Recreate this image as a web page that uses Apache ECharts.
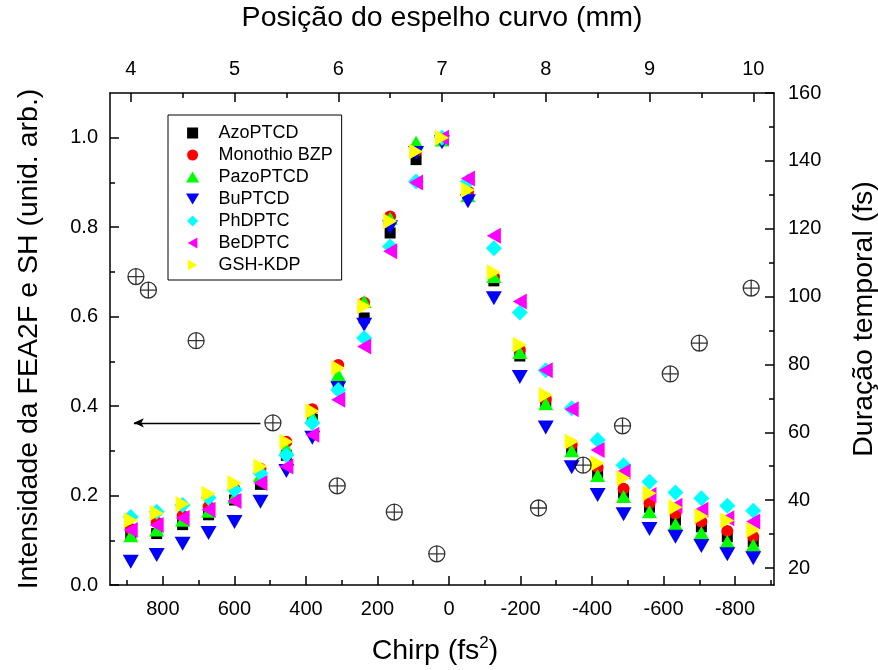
<!DOCTYPE html>
<html>
<head>
<meta charset="utf-8">
<script src="https://cdn.jsdelivr.net/npm/echarts@6/dist/echarts.min.js"></script>
<style>
html,body{margin:0;padding:0;background:#fff;}
#chart{width:878px;height:670px;}
</style>
</head>
<body>
<div id="chart"></div>
<script>
// Mirror position (mm) of each measured point
const positions = [4.00, 4.25, 4.50, 4.75, 5.00, 5.25, 5.50, 5.75, 6.00, 6.25, 6.50, 6.75, 7.00,
                   7.25, 7.50, 7.75, 8.00, 8.25, 8.50, 8.75, 9.00, 9.25, 9.50, 9.75, 10.00];

// Normalised intensities (left axis)
const azoPTCD    = [0.112,0.115,0.135,0.157,0.190,0.225,0.290,0.370,0.447,0.597,0.787,0.951,0.998,0.875,0.680,0.512,0.410,0.300,0.250,0.206,0.174,0.145,0.130,0.108,0.097];
const monothio   = [0.125,0.140,0.155,0.175,0.215,0.260,0.320,0.393,0.492,0.631,0.824,0.970,1.000,0.880,0.690,0.526,0.415,0.314,0.263,0.215,0.183,0.160,0.142,0.121,0.108];
const pazoPTCD   = [0.110,0.123,0.145,0.165,0.197,0.245,0.305,0.376,0.470,0.634,0.820,0.990,0.995,0.870,0.690,0.520,0.405,0.300,0.245,0.198,0.164,0.136,0.117,0.097,0.089];
const buPTCD     = [0.052,0.067,0.092,0.116,0.141,0.186,0.255,0.329,0.440,0.582,0.800,0.966,0.990,0.858,0.641,0.465,0.352,0.263,0.201,0.158,0.125,0.108,0.087,0.069,0.060];
const phDPTC     = [0.152,0.164,0.179,0.195,0.213,0.250,0.290,0.362,0.436,0.552,0.757,0.902,1.000,0.902,0.753,0.609,0.480,0.395,0.324,0.268,0.231,0.207,0.194,0.177,0.166];
const beDPTC     = [0.123,0.134,0.150,0.168,0.188,0.228,0.265,0.336,0.414,0.533,0.746,0.900,1.000,0.909,0.781,0.634,0.480,0.393,0.302,0.253,0.201,0.177,0.168,0.149,0.142];
const gshKDP     = [0.145,0.161,0.181,0.204,0.228,0.265,0.320,0.389,0.485,0.623,0.813,0.969,1.000,0.883,0.699,0.537,0.425,0.321,0.272,0.239,0.205,0.174,0.154,0.144,0.123];

// Pulse duration (right axis) vs mirror position
const durPos = [4.05, 4.17, 4.63, 5.37, 5.99, 6.54, 6.95, 7.93, 8.36, 8.74, 9.20, 9.48, 9.98];
const durVal = [105.9, 101.9, 87.0, 62.8, 44.2, 36.5, 24.2, 37.7, 50.3, 61.9, 77.2, 86.3, 102.5];

// Tick labels
const posTicks = [4, 5, 6, 7, 8, 9, 10];
const posMinor = [4.5, 5.5, 6.5, 7.5, 8.5, 9.5];
const chirpTicks = [800, 600, 400, 200, 0, -200, -400, -600, -800];
const chirpMinor = [900, 700, 500, 300, 100, -100, -300, -500, -700, -900];
const leftTicks = [0.0, 0.2, 0.4, 0.6, 0.8, 1.0];
const leftMinor = [0.1, 0.3, 0.5, 0.7, 0.9];
const rightTicks = [20, 40, 60, 80, 100, 120, 140, 160];
const rightMinor = [30, 50, 70, 90, 110, 130, 150];

const FONT = 'Liberation Sans, Arial, Helvetica, sans-serif';
const LW = 1.5;

function zipXY(xs, ys){ return xs.map((x,i)=>[x, ys[i]]); }

const seriesDefs = [
  {name:'AzoPTCD',      data:azoPTCD,  color:'#000000', symbol:'rect',   size:11, icon:'path://M0,0L10,0L10,10L0,10Z'},
  {name:'Monothio BZP', data:monothio, color:'#ff0000', symbol:'circle', size:12, icon:'circle'},
  {name:'PazoPTCD',     data:pazoPTCD, color:'#00ff00', symbol:'triangle', size:[15,13], icon:'path://M6,0L12,10L0,10Z'},
  {name:'BuPTCD',       data:buPTCD,   color:'#0000ff', symbol:'path://M0,0L10,0L5,8.7Z', size:[16,14], icon:'path://M0,0L12,0L6,10Z'},
  {name:'PhDPTC',       data:phDPTC,   color:'#00ffff', symbol:'diamond', size:[16,16], icon:'path://M5,0L10,5L5,10L0,5Z'},
  {name:'BeDPTC',       data:beDPTC,   color:'#ff00ff', symbol:'path://M8.7,0L8.7,10L0,5Z', size:[14,16], icon:'path://M8.7,0L8.7,10L0,5Z'},
  {name:'GSH-KDP',      data:gshKDP,   color:'#ffff00', symbol:'path://M0,0L8.7,5L0,10Z', size:[14,16], icon:'path://M0,0L8.7,5L0,10Z'}
];

const series = seriesDefs.map(d => ({
  name: d.name, type: 'scatter', xAxisIndex: 0, yAxisIndex: 0,
  symbol: d.symbol, symbolSize: d.size, symbolKeepAspect: false,
  itemStyle: {color: d.color, opacity: 1},
  data: zipXY(positions, d.data), z: 3
}));

series.push({
  name: 'Duração', type: 'scatter', xAxisIndex: 0, yAxisIndex: 1,
  symbol: 'path://M0,8A8,8 0 1 1 16,8A8,8 0 1 1 0,8Z M8,0L8,16 M0,8L16,8',
  symbolSize: 16,
  itemStyle: {color: 'rgba(0,0,0,0)', borderColor: '#000', borderWidth: 1.3},
  data: zipXY(durPos, durVal), z: 4,
  markLine: {
    silent: true, animation: false,
    symbol: ['none', 'arrow'], symbolSize: [7, 10],
    lineStyle: {color: '#000', width: 1.3, type: 'solid'},
    label: {show: false},
    data: [[{coord: [5.25, 62.8]}, {coord: [4.03, 62.8]}]]
  }
});

const lblStyle = {color:'#000', fontSize:20, fontFamily:FONT};
const nameStyle = {color:'#000', fontSize:28.5, fontFamily:FONT};

function minorAxis(base){
  return Object.assign({
    type:'value', axisLine:{show:false, onZero:false}, splitLine:{show:false},
    axisLabel:{show:false},
  }, base);
}

const option = {
  animation: false,
  backgroundColor: '#fff',
  grid: {left:110, right:104, top:93, bottom:85, containLabel:false, outerBoundsMode:'none'},
  legend: {
    orient:'vertical', left:168, top:115,
    data: seriesDefs.map(d=>({name:d.name, icon:d.icon})),
    itemWidth: 42, itemHeight: 11, itemGap: 4,
    padding: [9, 9, 6, 18],
    borderColor:'#000', borderWidth:1,
    textStyle: {fontSize:18, color:'#000', fontFamily:FONT},
    selectedMode: false
  },
  xAxis: [
    { // top, mirror position (data axis)
      type:'value', position:'top', min:3.8, max:10.2,
      name:'Posição do espelho curvo (mm)', nameLocation:'middle', nameGap:60, nameTextStyle:nameStyle,
      axisLine:{show:true, onZero:false, lineStyle:{color:'#000', width:LW}},
      axisTick:{show:true, inside:true, length:9, customValues:posTicks, lineStyle:{color:'#000', width:LW}},
      axisLabel:{customValues:posTicks, margin:14, ...lblStyle},
      splitLine:{show:false}
    },
    minorAxis({position:'top', min:3.8, max:10.2,
      axisTick:{show:true, inside:true, length:5, customValues:posMinor, lineStyle:{color:'#000', width:LW}}}),
    { // bottom, chirp
      type:'value', position:'bottom', min:-909, max:948, inverse:true,
      name:'Chirp (fs{sup|2})', nameLocation:'middle', nameGap:50,
      nameTextStyle:Object.assign({}, nameStyle, {padding:[0,14,0,0], rich:{sup:{fontSize:17, fontFamily:FONT, color:'#000', verticalAlign:'top', padding:[0,0,15,0]}}}),
      axisLine:{show:true, onZero:false, lineStyle:{color:'#000', width:LW}},
      axisTick:{show:true, inside:true, length:9, customValues:chirpTicks, lineStyle:{color:'#000', width:LW}},
      axisLabel:{customValues:chirpTicks, margin:14, ...lblStyle},
      splitLine:{show:false}
    },
    minorAxis({position:'bottom', min:-909, max:948, inverse:true,
      axisTick:{show:true, inside:true, length:5, customValues:chirpMinor, lineStyle:{color:'#000', width:LW}}})
  ],
  yAxis: [
    { // left intensity
      type:'value', position:'left', min:0, max:1.1,
      name:'Intensidade da FEA2F e SH (unid. arb.)', nameLocation:'middle', nameGap:66, nameTextStyle:nameStyle,
      axisLine:{show:true, onZero:false, lineStyle:{color:'#000', width:LW}},
      axisTick:{show:true, inside:true, length:9, customValues:leftTicks, lineStyle:{color:'#000', width:LW}},
      axisLabel:{customValues:leftTicks, margin:12, formatter:v=>v.toFixed(1), ...lblStyle},
      splitLine:{show:false}
    },
    { // right duration
      type:'value', position:'right', min:15, max:160,
      name:'Duração temporal (fs)', nameLocation:'middle', nameGap:76,
      nameTextStyle:Object.assign({}, nameStyle, {padding:[0,0,0,40]}),
      axisLine:{show:true, onZero:false, lineStyle:{color:'#000', width:LW}},
      axisTick:{show:true, inside:true, length:9, customValues:rightTicks, lineStyle:{color:'#000', width:LW}},
      axisLabel:{customValues:rightTicks, margin:14, ...lblStyle},
      splitLine:{show:false}
    },
    minorAxis({position:'left', min:0, max:1.1,
      axisTick:{show:true, inside:true, length:5, customValues:leftMinor, lineStyle:{color:'#000', width:LW}}}),
    minorAxis({position:'right', min:15, max:160,
      axisTick:{show:true, inside:true, length:5, customValues:rightMinor, lineStyle:{color:'#000', width:LW}}})
  ],
  series: series
};

const chart = echarts.init(document.getElementById('chart'), null, {renderer:'canvas'});
chart.setOption(option);
</script>
</body>
</html>
